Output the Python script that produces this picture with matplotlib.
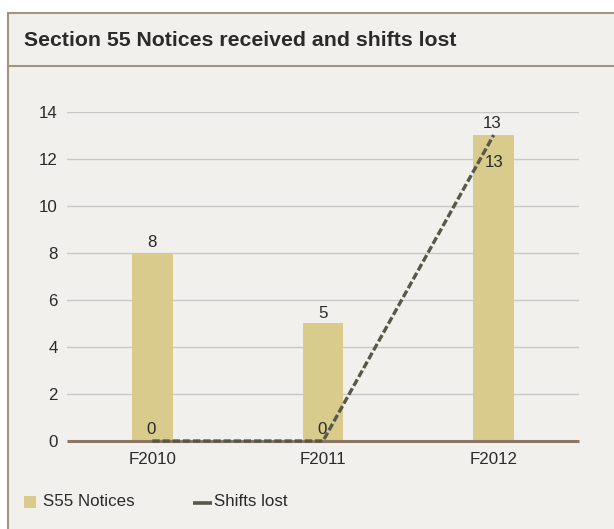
import matplotlib.pyplot as plt
from matplotlib.patches import Rectangle
from matplotlib.lines import Line2D

# data
years = ["F2010", "F2011", "F2012"]
notices = [8, 5, 13]
shifts_lost = [0, 0, 13]
y_ticks = [0, 2, 4, 6, 8, 10, 12, 14]

BG = "#f1f0ec"
BORDER = "#a39482"
BAR = "#d8cb8b"
LINE = "#58584a"
BASE = "#8b7764"
GRID = "#c8c8c8"
TXT = "#2a2a2a"

plt.rcParams["font.family"] = ["Liberation Sans Narrow", "Liberation Sans", "DejaVu Sans"]

W, H = 614, 529
FS = 12.2
fig = plt.figure(figsize=(W / 100, H / 100), dpi=100)
fig.patch.set_facecolor("white")


def fx(px):
    return px / W


def fy(py):
    return 1 - py / H


# panel background and frame (right/bottom edges run off the image)
fig.patches.append(Rectangle((fx(8), -0.05), fx(W + 10) - fx(8), fy(12.5) + 0.05,
                             transform=fig.transFigure, facecolor=BG,
                             edgecolor=BORDER, linewidth=1.5, zorder=-5))
fig.add_artist(Line2D([fx(8), 1], [fy(66), fy(66)], transform=fig.transFigure,
                      color=BORDER, linewidth=1.5, zorder=-4))
fig.text(fx(24), fy(41), "Section 55 Notices received and shifts lost",
         fontsize=15.3, fontweight="bold", color=TXT, va="center", ha="left",
         family=["Liberation Sans", "DejaVu Sans"])

ax = fig.add_axes([fx(67), fy(441), fx(579) - fx(67), fy(111.5) - fy(441)])
ax.set_facecolor("none")
x = range(len(years))

ax.bar(x, notices, width=0.24, color=BAR, zorder=2)
ax.axhline(0, color=BASE, linewidth=2.2, zorder=3, clip_on=False,
           solid_capstyle="butt")
ax.plot(x, shifts_lost, color=LINE, linewidth=2.4, linestyle=(0, (2.2, 0.85)),
        zorder=4, clip_on=False, dash_capstyle="butt")

ax.set_xlim(-0.5, 2.5)
ax.set_ylim(0, 14)
ax.set_yticks(y_ticks)
ax.set_xticks(list(x))
ax.set_xticklabels(years)
ax.yaxis.grid(True, color=GRID, linewidth=1.0, zorder=0)
ax.set_axisbelow(True)
for s in ax.spines.values():
    s.set_visible(False)
ax.tick_params(length=0, labelsize=FS, colors=TXT)
ax.tick_params(axis="y", pad=6.5)
ax.tick_params(axis="x", pad=8)

# value labels
for i, v in enumerate(notices):
    if v == max(notices):
        ax.annotate(str(v), (i, v), xytext=(0, -25), textcoords="offset points",
                    ha="center", va="bottom", fontsize=FS, color=TXT, zorder=5)
    else:
        ax.annotate(str(v), (i, v), xytext=(0, 2), textcoords="offset points",
                    ha="center", va="bottom", fontsize=FS, color=TXT, zorder=5)
for i, v in enumerate(shifts_lost):
    ax.annotate(str(v), (i, v), xytext=(-1, 3), textcoords="offset points",
                ha="center", va="bottom", fontsize=FS, color=TXT, zorder=5)

# legend drawn by hand at the bottom of the panel
fig.patches.append(Rectangle((fx(24), fy(508)), fx(12), fy(496) - fy(508),
                             transform=fig.transFigure, facecolor=BAR,
                             edgecolor="none"))
fig.text(fx(43), fy(502), "S55 Notices", fontsize=FS, color=TXT,
         va="center", ha="left")
fig.add_artist(Line2D([fx(193), fx(212)], [fy(502.5), fy(502.5)],
                      transform=fig.transFigure, color=LINE, linewidth=2.6,
                      solid_capstyle="butt"))
fig.text(fx(214), fy(502), "Shifts lost", fontsize=FS, color=TXT,
         va="center", ha="left")

fig.savefig("out.png", dpi=100, facecolor=fig.get_facecolor())
